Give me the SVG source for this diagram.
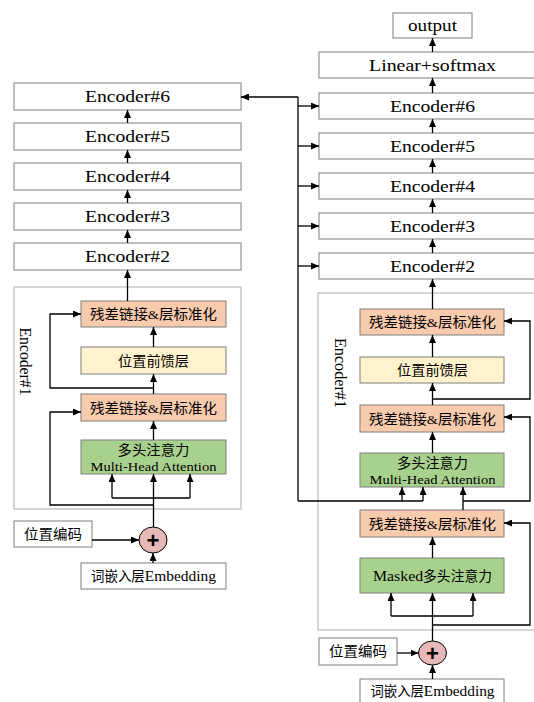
<svg xmlns="http://www.w3.org/2000/svg" width="534" height="702" viewBox="0 0 534 702">
<defs>
<marker id="ah" markerWidth="8" markerHeight="7" refX="8" refY="3.5" orient="auto" markerUnits="userSpaceOnUse">
<path d="M0,0 L8,3.5 L0,7 z" fill="#000"/>
</marker>
<style>
.box{fill:#fff;stroke:#7f7f7f;stroke-width:1}
.res{fill:#f8cbad;stroke:#7f7f7f;stroke-width:1}
.ff{fill:#fff2cc;stroke:#7f7f7f;stroke-width:1}
.att{fill:#a9d18e;stroke:#7f7f7f;stroke-width:1}
.grp{fill:none;stroke:#bfbfbf;stroke-width:1.3}
.plus{fill:#e6b9b8;stroke:#000;stroke-width:1}
.t{font-family:"Liberation Serif","Noto Sans CJK SC",serif;font-size:17.5px;fill:#000;text-anchor:middle}
.c{font-family:"Liberation Serif","Noto Sans CJK SC",serif;font-size:13.5px;fill:#000;text-anchor:middle}
.m{font-family:"Liberation Serif","Noto Sans CJK SC",serif;font-size:13px;fill:#000;text-anchor:middle}
.e{font-size:15.5px}
.v{font-family:"Liberation Serif",serif;font-size:16px;fill:#000;text-anchor:middle}
.pl{font-family:"Liberation Sans",sans-serif;font-size:22px;font-weight:bold;fill:#000;text-anchor:middle}
.ln{fill:none;stroke:#000;stroke-width:1.3}
.ar{fill:none;stroke:#000;stroke-width:1.3;marker-end:url(#ah)}
</style>
</defs>

<!-- LEFT ENCODER STACK -->
<g id="L-enc6"><rect class="box" x="14" y="83" width="227" height="27"/><text class="t" x="127.5" y="102" textLength="85" lengthAdjust="spacingAndGlyphs">Encoder#6</text></g>
<g id="L-enc5"><rect class="box" x="14" y="123" width="227" height="27"/><text class="t" x="127.5" y="142" textLength="85" lengthAdjust="spacingAndGlyphs">Encoder#5</text></g>
<g id="L-enc4"><rect class="box" x="14" y="163" width="227" height="27"/><text class="t" x="127.5" y="182" textLength="85" lengthAdjust="spacingAndGlyphs">Encoder#4</text></g>
<g id="L-enc3"><rect class="box" x="14" y="203" width="227" height="27"/><text class="t" x="127.5" y="222" textLength="85" lengthAdjust="spacingAndGlyphs">Encoder#3</text></g>
<g id="L-enc2"><rect class="box" x="14" y="243" width="227" height="27"/><text class="t" x="127.5" y="262" textLength="85" lengthAdjust="spacingAndGlyphs">Encoder#2</text></g>
<g id="L-enc1"><rect class="grp" x="14" y="287" width="227" height="222"/><text class="v" transform="translate(20,361.5) rotate(90)" textLength="68" lengthAdjust="spacingAndGlyphs">Encoder#1</text></g>
<g id="L-res1"><rect class="res" x="81" y="301" width="145" height="26"/><text class="c" x="153.5" y="319" textLength="127" lengthAdjust="spacingAndGlyphs">残差链接&amp;层标准化</text></g>
<g id="L-ff"><rect class="ff" x="81" y="347" width="145" height="27"/><text class="c" x="153.5" y="365.5" textLength="71" lengthAdjust="spacingAndGlyphs">位置前馈层</text></g>
<g id="L-res2"><rect class="res" x="81" y="394" width="145" height="27"/><text class="c" x="153.5" y="412.5" textLength="127" lengthAdjust="spacingAndGlyphs">残差链接&amp;层标准化</text></g>
<g id="L-mha"><rect class="att" x="81" y="440" width="145" height="34"/><text class="c" x="153.5" y="455" textLength="72" lengthAdjust="spacingAndGlyphs">多头注意力</text><text class="m" x="153.5" y="470.5" textLength="126" lengthAdjust="spacingAndGlyphs">Multi-Head Attention</text></g>
<g id="L-pos"><rect class="box" x="14" y="521" width="78" height="26"/><text class="c" x="53" y="538.5" textLength="58" lengthAdjust="spacingAndGlyphs">位置编码</text></g>
<g id="L-plus"><ellipse class="plus" cx="153" cy="540" rx="14" ry="13"/><text class="pl" x="153" y="547.5">+</text></g>
<g id="L-emb"><rect class="box" x="81" y="563" width="145" height="26"/><text class="c" x="153.5" y="581" textLength="125" lengthAdjust="spacingAndGlyphs">词嵌入层<tspan class="e">Embedding</tspan></text></g>

<!-- RIGHT DECODER STACK -->
<g id="R-out"><rect class="box" x="393" y="13" width="79" height="25"/><text class="t" x="432.5" y="31" textLength="49" lengthAdjust="spacingAndGlyphs">output</text></g>
<g id="R-lin"><rect class="box" x="319" y="52" width="227" height="26"/><text class="t" x="432.5" y="70.5" textLength="127" lengthAdjust="spacingAndGlyphs">Linear+softmax</text></g>
<g id="R-enc6"><rect class="box" x="319" y="93" width="227" height="26"/><text class="t" x="432.5" y="111.5" textLength="85" lengthAdjust="spacingAndGlyphs">Encoder#6</text></g>
<g id="R-enc5"><rect class="box" x="319" y="133" width="227" height="26"/><text class="t" x="432.5" y="151.5" textLength="85" lengthAdjust="spacingAndGlyphs">Encoder#5</text></g>
<g id="R-enc4"><rect class="box" x="319" y="173" width="227" height="26"/><text class="t" x="432.5" y="191.5" textLength="85" lengthAdjust="spacingAndGlyphs">Encoder#4</text></g>
<g id="R-enc3"><rect class="box" x="319" y="213" width="227" height="26"/><text class="t" x="432.5" y="231.5" textLength="85" lengthAdjust="spacingAndGlyphs">Encoder#3</text></g>
<g id="R-enc2"><rect class="box" x="319" y="253" width="227" height="26"/><text class="t" x="432.5" y="271.5" textLength="85" lengthAdjust="spacingAndGlyphs">Encoder#2</text></g>
<g id="R-enc1"><rect class="grp" x="318" y="293" width="227" height="337"/><text class="v" transform="translate(335,373) rotate(90)" textLength="70" lengthAdjust="spacingAndGlyphs">Encoder#1</text></g>
<g id="R-res1"><rect class="res" x="360" y="309" width="144" height="26"/><text class="c" x="432.5" y="327" textLength="127" lengthAdjust="spacingAndGlyphs">残差链接&amp;层标准化</text></g>
<g id="R-ff"><rect class="ff" x="360" y="357" width="144" height="26"/><text class="c" x="432.5" y="375" textLength="71" lengthAdjust="spacingAndGlyphs">位置前馈层</text></g>
<g id="R-res2"><rect class="res" x="360" y="405" width="144" height="27"/><text class="c" x="432.5" y="423.5" textLength="127" lengthAdjust="spacingAndGlyphs">残差链接&amp;层标准化</text></g>
<g id="R-mha"><rect class="att" x="360" y="453" width="144" height="34"/><text class="c" x="432.5" y="468" textLength="71" lengthAdjust="spacingAndGlyphs">多头注意力</text><text class="m" x="432.5" y="483.5" textLength="126" lengthAdjust="spacingAndGlyphs">Multi-Head Attention</text></g>
<g id="R-res3"><rect class="res" x="360" y="510" width="144" height="27"/><text class="c" x="432.5" y="528.5" textLength="127" lengthAdjust="spacingAndGlyphs">残差链接&amp;层标准化</text></g>
<g id="R-masked"><rect class="att" x="360" y="558" width="144" height="35"/><text class="c" x="432.5" y="580.5" textLength="119" lengthAdjust="spacingAndGlyphs"><tspan class="e">Masked</tspan>多头注意力</text></g>
<g id="R-pos"><rect class="box" x="319" y="638" width="78" height="27"/><text class="c" x="358" y="656" textLength="58" lengthAdjust="spacingAndGlyphs">位置编码</text></g>
<g id="R-plus"><ellipse class="plus" cx="432.5" cy="653" rx="14" ry="12"/><text class="pl" x="432.5" y="660.5">+</text></g>
<g id="R-emb"><rect class="box" x="360" y="679" width="144" height="26"/><text class="c" x="432.5" y="696" textLength="124" lengthAdjust="spacingAndGlyphs">词嵌入层<tspan class="e">Embedding</tspan></text></g>

<!-- CONNECTORS -->
<g id="connectors">
<line class="ar" x1="127.5" y1="123" x2="127.5" y2="110"/>
<line class="ar" x1="127.5" y1="163" x2="127.5" y2="150"/>
<line class="ar" x1="127.5" y1="203" x2="127.5" y2="190"/>
<line class="ar" x1="127.5" y1="243" x2="127.5" y2="230"/>
<line class="ar" x1="127.5" y1="301" x2="127.5" y2="270"/>
<line class="ar" x1="153.5" y1="347" x2="153.5" y2="327"/>
<line class="ar" x1="153.5" y1="394" x2="153.5" y2="374"/>
<line class="ar" x1="153.5" y1="440" x2="153.5" y2="421"/>
<path class="ar" d="M153.5,388 H50 V314 H81"/>
<path class="ar" d="M153.5,505 H50 V412 H81"/>
<line class="ar" x1="153.5" y1="527" x2="153.5" y2="474"/>
<path class="ln" d="M112,498 H190"/>
<line class="ar" x1="112" y1="498" x2="112" y2="474"/>
<line class="ar" x1="190" y1="498" x2="190" y2="474"/>
<line class="ar" x1="92" y1="540" x2="139" y2="540"/>
<line class="ar" x1="153" y1="563" x2="153" y2="553"/>
<line class="ar" x1="298" y1="97" x2="241" y2="97"/>
<line class="ln" x1="298" y1="97" x2="298" y2="501"/>
<line class="ar" x1="298" y1="106" x2="319" y2="106"/>
<line class="ar" x1="298" y1="146" x2="319" y2="146"/>
<line class="ar" x1="298" y1="186" x2="319" y2="186"/>
<line class="ar" x1="298" y1="226" x2="319" y2="226"/>
<line class="ar" x1="298" y1="266" x2="319" y2="266"/>
<path class="ln" d="M298,501 H423"/>
<line class="ar" x1="402" y1="501" x2="402" y2="487"/>
<line class="ar" x1="423" y1="501" x2="423" y2="487"/>
<line class="ar" x1="432.5" y1="52" x2="432.5" y2="38"/>
<line class="ar" x1="432.5" y1="93" x2="432.5" y2="78"/>
<line class="ar" x1="432.5" y1="133" x2="432.5" y2="119"/>
<line class="ar" x1="432.5" y1="173" x2="432.5" y2="159"/>
<line class="ar" x1="432.5" y1="213" x2="432.5" y2="199"/>
<line class="ar" x1="432.5" y1="253" x2="432.5" y2="239"/>
<line class="ar" x1="432.5" y1="309" x2="432.5" y2="279"/>
<line class="ar" x1="432.5" y1="357" x2="432.5" y2="335"/>
<line class="ar" x1="432.5" y1="405" x2="432.5" y2="383"/>
<line class="ar" x1="432.5" y1="453" x2="432.5" y2="432"/>
<path class="ar" d="M432.5,399 H530 V321 H504"/>
<line class="ar" x1="463" y1="510" x2="463" y2="487"/>
<path class="ar" d="M463,501 H530 V417 H504"/>
<line class="ar" x1="432.5" y1="558" x2="432.5" y2="537"/>
<path class="ar" d="M432.5,625 H530 V523 H504"/>
<line class="ar" x1="432.5" y1="641" x2="432.5" y2="593"/>
<path class="ln" d="M391,616 H473"/>
<line class="ar" x1="391" y1="616" x2="391" y2="593"/>
<line class="ar" x1="473" y1="616" x2="473" y2="593"/>
<line class="ar" x1="397" y1="653" x2="418.5" y2="653"/>
<line class="ar" x1="432.5" y1="679" x2="432.5" y2="665"/>
</g>
</svg>
